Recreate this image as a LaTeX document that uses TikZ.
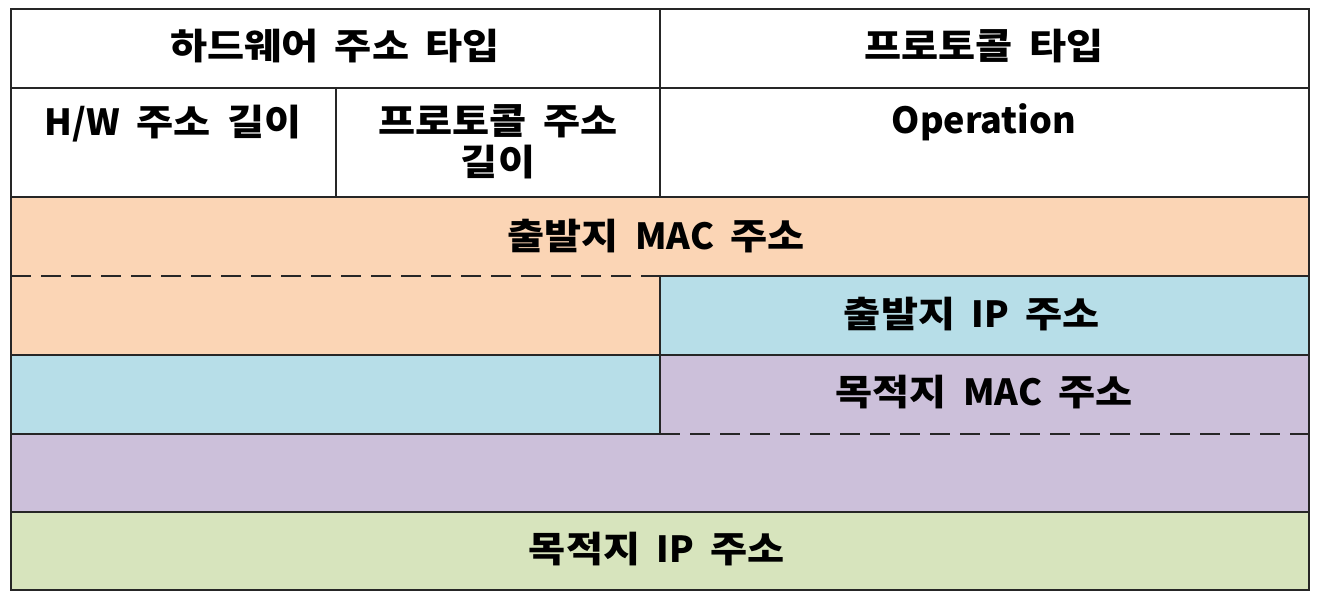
\documentclass[tikz,border=0pt]{standalone}
\usepackage{fontspec}
\setmainfont{Noto Sans CJK KR}[WordSpace=1.8,FakeStretch=1.12]
\newfontfamily\lat{Noto Sans CJK KR}[WordSpace=1.8]
\begin{document}
\begin{tikzpicture}[x=1pt,y=-1pt,
  cellline/.style={line width=1.6pt,draw=black!85},
  dashline/.style={line width=1.6pt,draw=black!85,dash pattern=on 20pt off 10pt},
  lbl/.style={font=\fontsize{36}{41}\selectfont\bfseries,inner sep=0pt,align=center,text=black}]
\definecolor{peach}{HTML}{FBD5B5}
\definecolor{lblue}{HTML}{B7DEE8}
\definecolor{lpurple}{HTML}{CCC0DA}
\definecolor{lgreen}{HTML}{D7E4BD}
\useasboundingbox (0,0) rectangle (1318,602);
% fills
\fill[white] (11,9) rectangle (1309,197);
\fill[peach] (11,197) rectangle (1309,276);
\fill[peach] (11,276) rectangle (660,355);
\fill[lblue] (660,276) rectangle (1309,355);
\fill[lblue] (11,355) rectangle (660,434);
\fill[lpurple] (660,355) rectangle (1309,434);
\fill[lpurple] (11,434) rectangle (1309,512);
\fill[lgreen] (11,512) rectangle (1309,590);
% lines
\draw[cellline] (11,88) -- (1309,88);
\draw[cellline] (11,197) -- (1309,197);
\draw[dashline] (11,276) -- (660,276);
\draw[cellline] (660,276) -- (1309,276);
\draw[cellline] (11,355) -- (1309,355);
\draw[cellline] (11,434) -- (660,434);
\draw[dashline] (660,434) -- (1309,434);
\draw[cellline] (11,512) -- (1309,512);
\draw[cellline] (660,9) -- (660,197);
\draw[cellline] (336,88) -- (336,197);
\draw[cellline] (660,276) -- (660,434);
\draw[cellline] (11,9) rectangle (1309,590);
% texts
\node[lbl] (hwtype) at (335,46) {하드웨어 주소 타입};
\node[lbl] (prtype) at (984,46) {프로토콜 타입};
\node[lbl] (hwlen) at (173,124) {{\lat H/W} 주소 길이};
\node[lbl,anchor=north] (prlen) at (498,104) {프로토콜 주소\\길이};
\node[lbl] (op) at (984,122) {\lat Operation};
\node[lbl] (smac) at (656,236) {출발지 {\lat MAC} 주소};
\node[lbl] (sip) at (972,314) {출발지 {\lat IP} 주소};
\node[lbl] (dmac) at (984,392) {목적지 {\lat MAC} 주소};
\node[lbl] (dip) at (657,549) {목적지 {\lat IP} 주소};
\end{tikzpicture}
\end{document}
